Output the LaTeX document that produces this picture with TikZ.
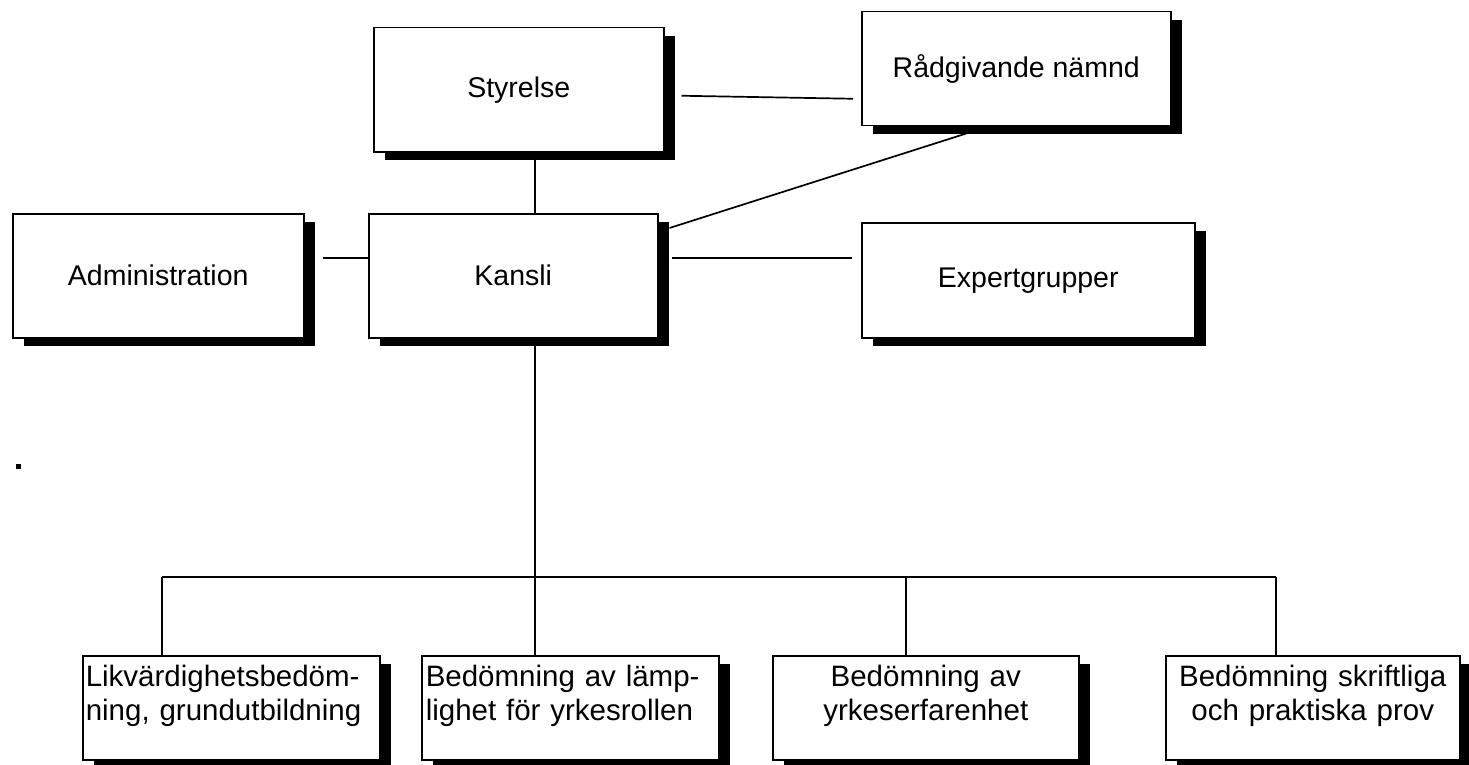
\documentclass[tikz,border=0pt]{standalone}
\usepackage{fontspec}
\setmainfont{Liberation Sans}
\usepackage{tikz}
\usetikzlibrary{calc,shadows}

\tikzset{
  orgbox/.style={draw, fill=white, line width=1.5pt, inner sep=0pt,
    drop shadow={shadow xshift=11pt, shadow yshift=-8pt, fill=black, opacity=1}},
  topbox/.style 2 args={orgbox, anchor=north west, minimum width=#1, minimum height=#2},
  unitbox/.style={orgbox, anchor=north west, inner xsep=4pt, inner ysep=0pt,
    font=\fontsize{29.5}{34}\selectfont,
    text width=#1, text height=31pt, text depth=73pt},
  link/.style={line width=1.7pt}
}

\begin{document}
\begin{tikzpicture}[x=1pt,y=-1pt,font=\fontsize{28.5}{34}\selectfont]
    \useasboundingbox (0,0) rectangle (1469,765);
    % upper level
    \node[topbox={290pt}{124pt}] (styr) at (373,27) {Styrelse};
    \node[topbox={309pt}{114pt}] (radg) at (861,11) {Rådgivande nämnd};
    \node[topbox={291pt}{124pt}] (adm) at (12,213) {Administration};
    \node[topbox={289pt}{124pt}] (kans) at (368,213) {Kansli};
    \node[topbox={333pt}{115pt}] (exp) at (861,222) {Expertgrupper};
    % lower level
    \node[unitbox=291pt, inner xsep=3pt, align=left] (b1) at (82,655)
      {Likvärdighetsbedöm-\\ning, grundutbildning};
    \node[unitbox=289pt, align=left] (b2) at (421,655)
      {Bedömning av lämp-\\lighet för yrkesrollen};
    \node[unitbox=298pt, align=center] (b3) at (772,655)
      {Bedömning av\\yrkeserfarenhet};
    \node[unitbox=286pt, align=center] (b4) at (1165,655)
      {Bedömning skriftliga\\och praktiska prov};
    \coordinate (trunk) at (535,577);
    \foreach \x/\name [count=\i] in {162/b1,535/b2,906/b3,1276/b4} {
     \coordinate (d\i) at (\x,577);
     \draw[link] (d\i) -- (d\i |- \name.north);
    }
    \draw[link] (d1) -- (d4);
    \draw[link] (kans.south -| trunk) -- (trunk);
    \draw[link] (styr.south -| trunk) -- (kans.north -| trunk);
    \draw[link] ($(styr.east)+(17,6)$) -- ($(radg.west)+(-8,30)$);
    \draw[link] ($(kans.north east)+(11,15)$) -- ($(radg.south)+(-50,7)$);
    \draw[link] ($(adm.east)+(18,-18)$) -- ($(kans.west)+(0,-18)$);
    \draw[link] ($(kans.east)+(13,-18)$) -- ($(exp.west)+(-9,-22.5)$);
    \fill (16,464) rectangle (21,469);
\end{tikzpicture}
\end{document}
